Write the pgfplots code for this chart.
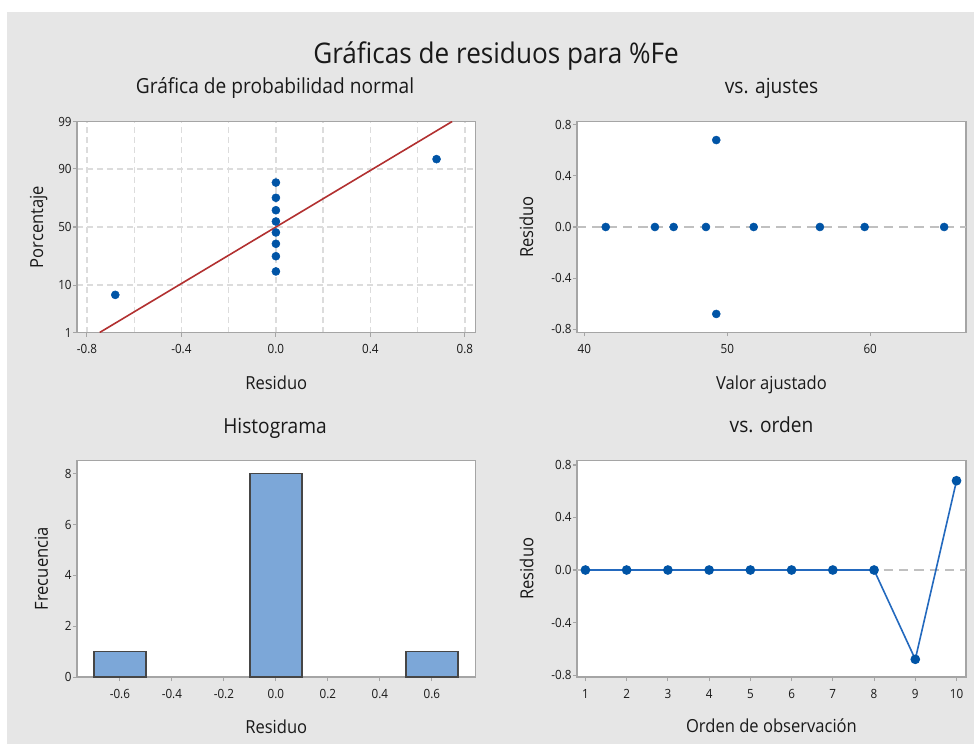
\documentclass[border=0pt]{standalone}
\usepackage{pgfplots}
\pgfplotsset{compat=1.18}
\usepackage{fontspec}
\setmainfont{Open Sans}[FakeStretch=0.92]
\definecolor{bg}{RGB}{230,230,230}
\definecolor{ptblue}{RGB}{0,84,166}
\definecolor{fitred}{RGB}{178,48,48}
\definecolor{gridgray}{RGB}{220,220,220}
\definecolor{framegray}{RGB}{165,165,165}
\definecolor{refgray}{RGB}{192,192,192}
\definecolor{barblue}{RGB}{124,167,216}
\definecolor{baredge}{RGB}{70,70,70}
\definecolor{lineblue}{RGB}{35,105,190}
\pgfplotsset{
  mystyle/.style={
    scale only axis, anchor=north west,
    axis line style={framegray, line width=1.2pt},
    axis background/.style={fill=white},
    tick style={framegray, line width=0.8pt},
    tick align=outside, tick pos=left,
    major tick length=3pt, minor tick length=0pt,
    ticklabel style={font=\fontsize{9.5}{11}\selectfont, text=black!90},
    xticklabel style={yshift=-2.5pt},
    yticklabel style={xshift=2.5pt},
    label style={font=\fontsize{13.5}{16}\selectfont, text=black!90},
    title style={font=\fontsize{15.6}{18}\selectfont, anchor=base, text=black!90},
    /pgf/number format/assume math mode=true,
    xlabel style={anchor=base},
    ylabel style={anchor=base},
  },
  onedec/.style={/pgf/number format/.cd, fixed, fixed zerofill, precision=1},
}
\begin{document}
\begin{tikzpicture}
\fill[white] (0pt,0pt) rectangle (730.5pt,558pt);
\fill[bg] (5.25pt,0pt) rectangle (730.5pt,549pt);
\useasboundingbox (0pt,0pt) rectangle (730.5pt,558pt);
\node[anchor=base, font=\fontsize{21.3}{25}\selectfont, text=black!90] at (372pt,510.5pt) {Gráficas de residuos para \%Fe};

% Normal probability plot
\begin{axis}[mystyle, at={(57.75pt,466.875pt)}, width=298.9pt, height=158.25pt,
  xmin=-0.842, xmax=0.845, ymin=-2.3263, ymax=2.3263,
  xtick={-0.8,-0.4,0,0.4,0.8}, minor xtick={-0.6,-0.2,0.2,0.6},
  ytick={-2.3263,-1.2816,0,1.2816,2.3263}, yticklabels={1,10,50,90,99},
  xticklabel style={onedec},
  grid=both,
  major grid style={gridgray, dash pattern=on 4.5pt off 3pt, line width=1pt},
  minor grid style={gridgray, dash pattern=on 4.5pt off 3pt, line width=1pt},
  title={Gráfica de probabilidad normal}, title style={at={(0.497,1.097)}},
  xlabel={Residuo}, xlabel style={at={(axis description cs:0.5,-0.268)}},
  ylabel={Porcentaje}, ylabel style={at={(axis description cs:-0.0853,0.5)}}]
\addplot[fitred, line width=1.2pt] coordinates {(-0.746,-2.3263) (0.746,2.3263)};
\addplot[only marks, mark=*, mark size=3pt, ptblue] coordinates {
(-0.68,-1.4963) (0,-0.9802) (0,-0.6443) (0,-0.3700) (0,-0.1208)
(0,0.1208) (0,0.3700) (0,0.6443) (0,0.9802) (0.68,1.4963)};
\end{axis}

% vs fits
\begin{axis}[mystyle, at={(432.75pt,466.875pt)}, width=291.75pt, height=158.25pt,
  xmin=39.49, xmax=66.7, ymin=-0.825, ymax=0.825,
  xtick={40,50,60}, ytick={-0.8,-0.4,0,0.4,0.8},
  yticklabel style={onedec},
  title={vs. ajustes}, title style={at={(0.5,1.097)}},
  xlabel={Valor ajustado}, xlabel style={at={(axis description cs:0.5,-0.27)}},
  ylabel={Residuo}, ylabel style={at={(axis description cs:-0.113,0.5)}}]
\addplot[refgray, dash pattern=on 7pt off 4.5pt, line width=1.5pt] coordinates {(39.49,0) (66.7,0)};
\addplot[only marks, mark=*, mark size=3pt, ptblue] coordinates {
(41.5,0) (44.94,0) (46.25,0) (48.51,0) (49.23,0.68) (49.23,-0.68)
(51.85,0) (56.48,0) (59.61,0) (65.17,0)};
\end{axis}

% Histogram
\begin{axis}[mystyle, at={(57.75pt,212.625pt)}, width=298.9pt, height=162.4pt,
  xmin=-0.765, xmax=0.768, ymin=0, ymax=8.52,
  xtick={-0.6,-0.4,-0.2,0,0.2,0.4,0.6}, ytick={0,2,4,6,8},
  xticklabel style={onedec},
  title={Histograma}, title style={at={(0.497,1.087)}},
  xlabel={Residuo}, xlabel style={at={(axis description cs:0.5,-0.26)}},
  ylabel={Frecuencia}, ylabel style={at={(axis description cs:-0.073,0.5)}}]
\addplot[ybar, bar width=0.2, fill=barblue, draw=baredge, line width=1pt] coordinates {(-0.6,1) (0,8) (0.6,1)};
\end{axis}

% vs order
\begin{axis}[mystyle, at={(432.75pt,212.625pt)}, width=291.75pt, height=162.4pt,
  xmin=0.796, xmax=10.23, ymin=-0.815, ymax=0.834,
  xtick={1,2,3,4,5,6,7,8,9,10}, ytick={-0.8,-0.4,0,0.4,0.8},
  yticklabel style={onedec},
  title={vs. orden}, title style={at={(0.5,1.091)}},
  xlabel={Orden de observación}, xlabel style={at={(axis description cs:0.5,-0.258)}},
  ylabel={Residuo}, ylabel style={at={(axis description cs:-0.112,0.5)}}]
\addplot[refgray, dash pattern=on 7pt off 4.5pt, line width=1.5pt] coordinates {(0.796,0) (10.23,0)};
\addplot[lineblue, line width=1.2pt, mark=*, mark size=3pt, mark options={ptblue}] coordinates {
(1,0) (2,0) (3,0) (4,0) (5,0) (6,0) (7,0) (8,0) (9,-0.68) (10,0.68)};
\end{axis}
\end{tikzpicture}
\end{document}
